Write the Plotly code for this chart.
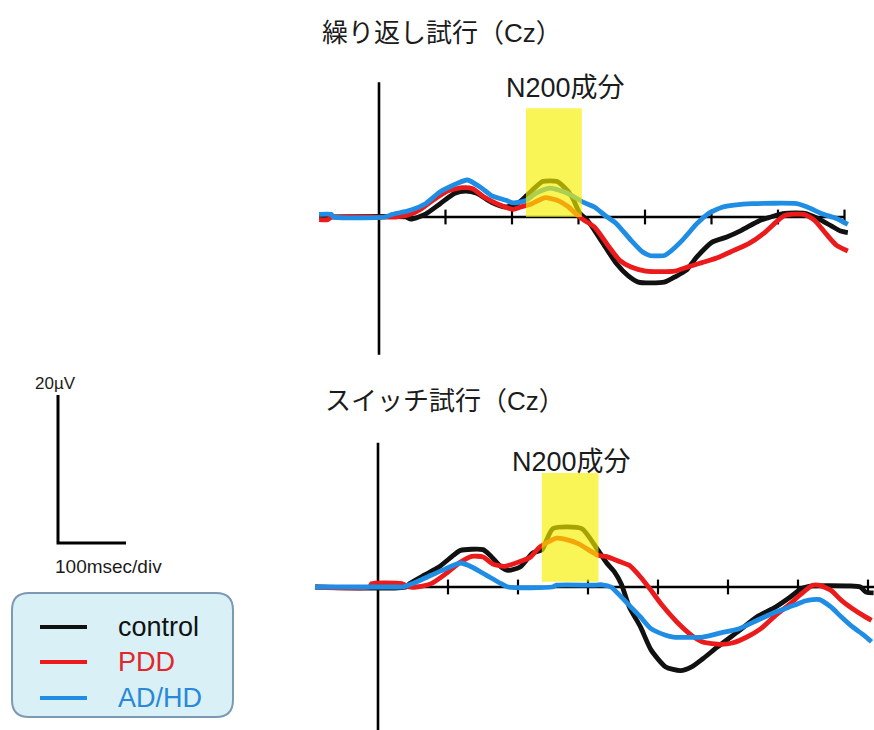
import plotly.graph_objects as go

W, H = 874, 730

# ---------------- data ----------------
TOP_TITLE = "繰り返し試行（Cz）"
BOTTOM_TITLE = "スイッチ試行（Cz）"
COMPONENT_LABEL = "N200成分"
GROUPS = ["control", "PDD", "AD/HD"]
SCALE_MS = 100
SCALE_UV = 20
SCALE_V_LABEL = "20µV"
SCALE_H_LABEL = "100msec/div"
TICKS_MS = [100, 200, 300, 400, 500, 600, 700]
TOP_N200_WINDOW = [221, 305]
BOTTOM_N200_WINDOW = [234, 315]

# ERP values in µV (negative plotted upward)
TOP_CONTROL_T = [-90, 40, 48, 70, 92, 114, 130, 147, 169, 191, 208, 222, 235, 246, 268, 285, 293, 302, 313, 324,
                 340, 357, 374, 390, 429, 445, 462, 478, 501, 523, 545, 572, 589, 610, 640, 660, 680, 694, 705]
TOP_CONTROL_V = [0, 0, 0.3, -0.4, -1.8, -3.2, -3.5, -3.2, -2.0, -1.35, -1.8, -2.9, -4.0, -4.8, -4.8, -3.4, -2.2, -0.5, 0.4, 1.8,
                 4.0, 6.3, 7.9, 8.8, 8.8, 8.1, 7.2, 5.4, 3.4, 2.7, 1.8, 0.5, 0, -0.5, -0.5, 0.2, 1.2, 1.9, 2.1]

TOP_PDD_T = [-90, -77, -71, 25, 47, 64, 81, 103, 125, 141, 158, 180, 202, 213, 230, 249, 268, 285, 296, 307,
             324, 346, 362, 379, 401, 445, 467, 489, 512, 534, 556, 578, 600, 611, 639, 655, 672, 688, 705]
TOP_PDD_V = [0.36, 0.36, 0, 0, -0.36, -1.13, -2.25, -3.5, -3.96, -3.83, -2.7, -1.7, -1.04, -1.35, -1.8, -2.6, -2.25, -1.35, -0.45, 0.36,
             1.35, 4.05, 5.86, 6.76, 7.3, 7.3, 6.67, 6.08, 5.4, 4.5, 3.6, 2.25, 0.45, -0.23, -0.36, 0.45, 2.25, 3.83, 4.6]

TOP_ADHD_T = [-90, -72, -68, 9, 20, 47, 70, 92, 114, 133, 152, 169, 191, 202, 221, 235, 257, 285, 307, 324,
              340, 357, 379, 396, 407, 429, 434, 456, 478, 495, 517, 534, 561, 628, 644, 666, 688, 705]
TOP_ADHD_V = [-0.36, -0.36, 0, 0, -0.36, -0.9, -1.8, -3.4, -4.4, -5.0, -4.05, -2.9, -2.25, -1.9, -2.25, -3.15, -3.9, -3.15, -2.0, -1.35,
              -0.2, 0.9, 3.15, 4.7, 5.2, 5.2, 4.95, 3.15, 0.9, -0.45, -1.35, -1.6, -1.8, -1.8, -1.35, -0.45, 0.2, 1.0]

BOTTOM_CONTROL_T = [-90, 40, 45, 66, 87, 108, 118, 150, 160, 176, 186, 203, 221, 234, 250, 291, 314, 327, 338, 348,
                    359, 375, 390, 411, 432, 448, 464, 485, 516, 542, 568, 589, 605, 621, 673, 689, 697, 708]
BOTTOM_CONTROL_V = [0, 0, -0.45, -1.6, -2.7, -4.3, -4.95, -5.05, -4.3, -2.7, -2.25, -2.7, -4.6, -5.0, -7.9, -7.9, -5.0, -3.2, -2.0, -0.3,
                    2.7, 5.4, 8.5, 10.8, 11.3, 10.8, 9.7, 8.1, 5.9, 4.0, 2.7, 1.35, 0.2, -0.15, -0.15, 0, 0.7, 0.8]

BOTTOM_PDD_T = [-90, -12, -9, 34, 45, 55, 76, 97, 118, 134, 150, 165, 181, 202, 218, 231, 255, 265, 286, 314,
                327, 346, 359, 375, 390, 406, 427, 448, 464, 490, 506, 527, 547, 568, 589, 605, 621, 631, 647, 662, 678, 694, 705]
BOTTOM_PDD_V = [0, 0, -0.45, -0.45, 0, 0, -0.45, -1.8, -3.38, -4.14, -4.05, -3.06, -2.8, -3.4, -4.05, -5.4, -6.6, -6.5, -5.86, -4.3,
                -4.1, -3.4, -2.93, -1.35, 0.45, 2.48, 4.73, 6.53, 7.43, 7.75, 7.57, 6.76, 5.63, 3.83, 2.25, 0.9, -0.23, -0.23, 0.45, 1.8, 2.93, 3.9, 4.5]

BOTTOM_ADHD_T = [-90, 30, 35, 55, 76, 97, 118, 134, 155, 176, 186, 249, 255, 310, 320, 333, 343, 359, 375, 390,
                 411, 422, 464, 490, 516, 542, 568, 594, 610, 621, 631, 647, 662, 678, 694, 705]
BOTTOM_ADHD_V = [0, 0, 0, -0.68, -1.58, -2.48, -3.24, -2.7, -1.58, -0.45, 0, 0, -0.25, -0.25, -0.3, 0, 0.9, 2.48, 4.05, 5.63,
                 6.53, 6.76, 6.76, 6.2, 5.63, 4.5, 3.38, 2.48, 1.9, 1.7, 1.7, 2.7, 4.05, 5.4, 6.5, 7.4]

# ---------------- style ----------------
COLORS = ["#111111", "#ec1b1b", "#1f8de4"]
LEGEND_TEXT_COLORS = ["#111111", "#e3262b", "#2a88d8"]
FONT = "Liberation Sans, Arial, Noto Sans CJK JP, sans-serif"
TEXT_COLOR = "#1b1b1b"


def px_x(p):
    return p / W


def px_y(p):
    return 1 - p / H


fig = go.Figure()

panels = [
    dict(xa="x", ya="y",
         series=[(TOP_CONTROL_T, TOP_CONTROL_V), (TOP_PDD_T, TOP_PDD_V), (TOP_ADHD_T, TOP_ADHD_V)],
         vaxis=(-18.2, 18.6), haxis_end=700, window=TOP_N200_WINDOW, wy=(0, -14.7)),
    dict(xa="x2", ya="y2",
         series=[(BOTTOM_CONTROL_T, BOTTOM_CONTROL_V), (BOTTOM_PDD_T, BOTTOM_PDD_V), (BOTTOM_ADHD_T, BOTTOM_ADHD_V)],
         vaxis=(-19.5, 21), haxis_end=712, window=BOTTOM_N200_WINDOW, wy=(-0.7, -15.4)),
]

for p in panels:
    # axes (vertical at 0 ms, horizontal at 0 µV)
    fig.add_trace(go.Scatter(x=[0, 0, None, 0, p["haxis_end"]],
                             y=[p["vaxis"][0], p["vaxis"][1], None, 0, 0],
                             mode="lines", line=dict(color="#000000", width=2.6),
                             xaxis=p["xa"], yaxis=p["ya"], showlegend=False, hoverinfo="skip"))
    tx, ty = [], []
    for t in TICKS_MS:
        tx += [t, t, None]
        ty += [-1.0, 1.0, None]
    fig.add_trace(go.Scatter(x=tx, y=ty, mode="lines", line=dict(color="#000000", width=2.2),
                             xaxis=p["xa"], yaxis=p["ya"], showlegend=False, hoverinfo="skip"))
    for (t, v), name, col in zip(p["series"], GROUPS, COLORS):
        fig.add_trace(go.Scatter(x=t, y=v, mode="lines", name=name,
                                 line=dict(color=col, width=4.8, shape="spline", smoothing=0.6),
                                 xaxis=p["xa"], yaxis=p["ya"], showlegend=False))
    fig.add_shape(type="rect", xref=p["xa"], yref=p["ya"],
                  x0=p["window"][0], x1=p["window"][1], y0=p["wy"][0], y1=p["wy"][1],
                  fillcolor="#f8f000", opacity=0.66, line=dict(width=0), layer="above")

# scale bar
fig.add_trace(go.Scatter(x=[0, 0, SCALE_MS], y=[-SCALE_UV, 0, 0], mode="lines",
                         line=dict(color="#000000", width=3), xaxis="x3", yaxis="y3",
                         showlegend=False, hoverinfo="skip"))


# legend box
def rounded(x0, y0, x1, y1, r):
    def P(x, y):
        return f"{px_x(x):.5f},{px_y(y):.5f}"
    return (f"M {P(x0 + r, y0)} L {P(x1 - r, y0)} Q {P(x1, y0)} {P(x1, y0 + r)} "
            f"L {P(x1, y1 - r)} Q {P(x1, y1)} {P(x1 - r, y1)} "
            f"L {P(x0 + r, y1)} Q {P(x0, y1)} {P(x0, y1 - r)} "
            f"L {P(x0, y0 + r)} Q {P(x0, y0)} {P(x0 + r, y0)} Z")


fig.add_shape(type="path", xref="paper", yref="paper", path=rounded(12, 593, 233, 717, 17),
              fillcolor="#d8f0f6", line=dict(color="#7d9ab2", width=2), layer="below")

legend_rows = [627, 662, 698]
annotations = []
for name, col, tcol, yy in zip(GROUPS, COLORS, LEGEND_TEXT_COLORS, legend_rows):
    fig.add_shape(type="line", xref="paper", yref="paper", x0=px_x(40), x1=px_x(87),
                  y0=px_y(yy), y1=px_y(yy), line=dict(color=col, width=4))
    annotations.append(dict(text=name, x=px_x(116), y=px_y(yy), xref="paper", yref="paper",
                            xanchor="left", yanchor="middle", showarrow=False,
                            font=dict(size=27, color=tcol, family=FONT)))


def label(text, cx, cy, size):
    return dict(text=text, x=px_x(cx), y=px_y(cy), xref="paper", yref="paper",
                xanchor="center", yanchor="middle", showarrow=False,
                font=dict(size=size, color=TEXT_COLOR, family=FONT))


annotations += [
    label(TOP_TITLE, 442, 33, 26),
    label(BOTTOM_TITLE, 445, 401, 26),
    label(COMPONENT_LABEL, 565, 88, 27),
    label(COMPONENT_LABEL, 571, 462, 27),
    label(SCALE_V_LABEL, 55, 383, 17),
    label(SCALE_H_LABEL, 108, 566, 19),
]

hidden = dict(visible=False, showgrid=False, zeroline=False, fixedrange=True)

fig.update_layout(
    width=W, height=H, margin=dict(l=0, r=0, t=0, b=0),
    paper_bgcolor="white", plot_bgcolor="rgba(0,0,0,0)",
    showlegend=False, annotations=annotations,
    xaxis=dict(domain=[px_x(300), 1], range=[(300 - 379) / 0.665, (874 - 379) / 0.665], **hidden),
    yaxis=dict(domain=[px_y(365), px_y(70)], range=[(365 - 217) / 7.4, (70 - 217) / 7.4], **hidden),
    xaxis2=dict(domain=[px_x(300), 1], range=[(300 - 378) / 0.70, (874 - 378) / 0.70], anchor="y2", **hidden),
    yaxis2=dict(domain=[0, px_y(435)], range=[(730 - 587) / 7.4, (435 - 587) / 7.4], anchor="x2", **hidden),
    xaxis3=dict(domain=[px_x(20), px_x(200)], range=[(20 - 58) / 0.68, (200 - 58) / 0.68], anchor="y3", **hidden),
    yaxis3=dict(domain=[px_y(590), px_y(370)], range=[(590 - 543) / 7.4, (370 - 543) / 7.4], anchor="x3", **hidden),
)

fig.write_html("out.html", config={"displayModeBar": False},
               post_script="document.body.style.margin='0';document.body.style.overflow='hidden';")
